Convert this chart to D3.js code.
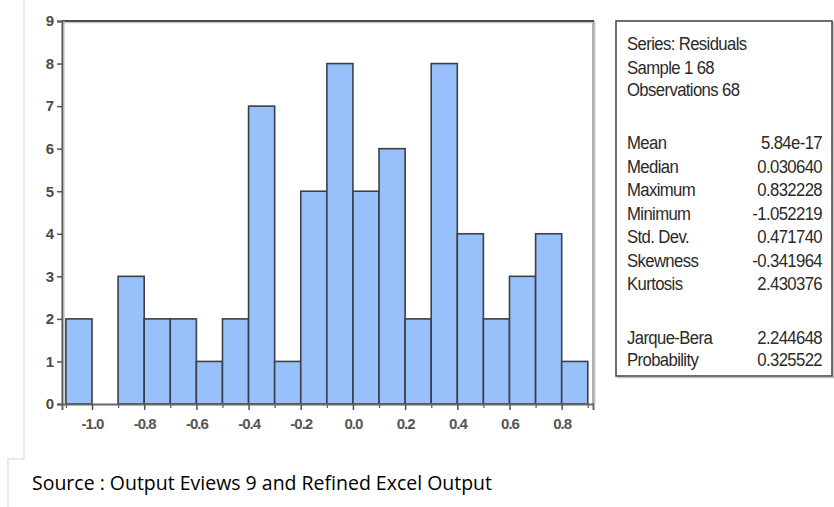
<!DOCTYPE html>
<html>
<head>
<meta charset="utf-8">
<script src="https://cdn.jsdelivr.net/npm/d3@7"></script>
<style>
  html, body { margin: 0; padding: 0; background: #fff; }
  svg { display: block; }
</style>
</head>
<body>
<svg id="chart" width="834" height="507"></svg>
<script>
// ---- data ----
const binStarts = [-1.1, -1.0, -0.9, -0.8, -0.7, -0.6, -0.5, -0.4, -0.3, -0.2,
                   -0.1, 0.0, 0.1, 0.2, 0.3, 0.4, 0.5, 0.6, 0.7, 0.8];
const counts    = [2, 0, 3, 2, 2, 1, 2, 7, 1, 5, 8, 5, 6, 2, 8, 4, 2, 3, 4, 1];
const binWidth = 0.1;
const yTicks = [0, 1, 2, 3, 4, 5, 6, 7, 8, 9];
const xMajorTicks = [-1.0, -0.8, -0.6, -0.4, -0.2, 0.0, 0.2, 0.4, 0.6, 0.8];
const xMinorTicks = [-1.1, -0.9, -0.7, -0.5, -0.3, -0.1, 0.1, 0.3, 0.5, 0.7, 0.9];
const headerLines = ["Series: Residuals", "Sample 1 68", "Observations 68"];
const statLabels = ["Mean", "Median", "Maximum", "Minimum", "Std. Dev.", "Skewness", "Kurtosis"];
const statValues = ["5.84e-17", "0.030640", "0.832228", "-1.052219", "0.471740", "-0.341964", "2.430376"];
const testLabels = ["Jarque-Bera", "Probability"];
const testValues = ["2.244648", "0.325522"];
const sourceText = "Source : Output Eviews 9 and Refined Excel Output";

// ---- layout ----
const svg = d3.select("#chart");
const L = 62, R = 593, T = 21, B = 404;
const x = d3.scaleLinear().domain([-1.115, 0.92]).range([L, R]);
const y = d3.scaleLinear().domain([0, 9]).range([B, T]);

// faint page-edge decoration lines
svg.append("path")
  .attr("d", `M24,0 V459 H8 V507`)
  .attr("fill", "none").attr("stroke", "#e2e2e2").attr("stroke-width", 1.5);

// plot background
svg.append("rect").attr("x", L).attr("y", T).attr("width", R - L).attr("height", B - T)
  .attr("fill", "#fff");

// bars
const bars = svg.append("g");
binStarts.forEach((b, i) => {
  if (counts[i] === 0) return;
  bars.append("rect")
    .attr("x", x(b)).attr("y", y(counts[i]))
    .attr("width", x(b + binWidth) - x(b))
    .attr("height", y(0) - y(counts[i]))
    .attr("fill", "#98c1fb")
    .attr("stroke", "#3c3f45").attr("stroke-width", 1.6);
});

// frame: right (light) and top (dark)
svg.append("line").attr("x1", R + 1.5).attr("x2", R + 1.5).attr("y1", T).attr("y2", B)
  .attr("stroke", "#c8c8c8").attr("stroke-width", 2);
svg.append("line").attr("x1", R).attr("x2", R).attr("y1", T).attr("y2", B)
  .attr("stroke", "#8a8a8a").attr("stroke-width", 1.3);
svg.append("line").attr("x1", L).attr("x2", R).attr("y1", T + 1.5).attr("y2", T + 1.5)
  .attr("stroke", "#c8c8c8").attr("stroke-width", 1.5);
svg.append("line").attr("x1", L).attr("x2", R + 1).attr("y1", T).attr("y2", T)
  .attr("stroke", "#4a4a4a").attr("stroke-width", 1.8);

const tickFont = "Liberation Sans, Arial, sans-serif";

// y axis
const yAxis = d3.axisLeft(y).tickValues(yTicks).tickSize(5).tickPadding(3).tickFormat(d3.format("d"));
const gy = svg.append("g").attr("transform", `translate(${L},0)`).call(yAxis);
gy.attr("font-size", 15);
gy.select(".domain").attr("stroke", "#555").attr("stroke-width", 2);
gy.selectAll(".tick line").attr("stroke", "#555").attr("stroke-width", 1.5);
gy.selectAll(".tick text").attr("fill", "#4a4a4a").attr("font-family", tickFont)
  .attr("font-size", 15).attr("font-weight", "bold");
svg.append("line").attr("x1", L + 2).attr("x2", L + 2).attr("y1", T).attr("y2", B)
  .attr("stroke", "#bdbdbd").attr("stroke-width", 1.2);

// x axis
const xAxis = d3.axisBottom(x).tickValues(xMajorTicks).tickSize(6).tickPadding(8)
  .tickFormat(d3.format(".1f"));
const gx = svg.append("g").attr("transform", `translate(0,${B})`).call(xAxis);
gx.attr("font-size", 15);
gx.select(".domain").attr("stroke", "#666").attr("stroke-width", 2);
gx.selectAll(".tick line").attr("stroke", "#555").attr("stroke-width", 1.5);
gx.selectAll(".tick text").attr("fill", "#555").attr("font-family", tickFont)
  .attr("font-size", 15).attr("font-weight", "bold").attr("letter-spacing", -1)
  .text(d => d3.format(".1f")(d).replace("−", "-"));
const gxm = svg.append("g").attr("transform", `translate(0,${B})`)
  .call(d3.axisBottom(x).tickValues(xMinorTicks).tickSize(4).tickFormat(""));
gxm.select(".domain").remove();
gxm.selectAll(".tick line").attr("stroke", "#666").attr("stroke-width", 1.3);

// stats box
const bx = 616, by = 21, bw = 216, bh = 355;
svg.append("rect").attr("x", bx + 1.5).attr("y", by + 1.5).attr("width", bw).attr("height", bh)
  .attr("fill", "none").attr("stroke", "#c4c4c4").attr("stroke-width", 1.5);
svg.append("rect").attr("x", bx).attr("y", by).attr("width", bw).attr("height", bh)
  .attr("fill", "#fff").attr("stroke", "#4a4a4a").attr("stroke-width", 1.6);

const tx = 627, vx = 822;
const txt = svg.append("g").attr("font-family", "Liberation Sans, Arial, sans-serif")
  .attr("font-size", 19).attr("fill", "#2a2a2a");
function addText(str, px, py, anchor) {
  const g = txt.append("g").attr("transform", `translate(${px},${py}) scale(0.88,1)`);
  g.append("text").attr("x", 0).attr("y", 0).attr("text-anchor", anchor)
    .attr("letter-spacing", -0.7).text(str);
}
const headerY = [50, 74, 96];
headerLines.forEach((s, i) => addText(s, tx, headerY[i], "start"));
const statY0 = 149, statDY = 23.5;
statLabels.forEach((s, i) => {
  addText(s, tx, statY0 + i * statDY, "start");
  addText(statValues[i], vx, statY0 + i * statDY, "end");
});
const testY0 = 344;
testLabels.forEach((s, i) => {
  addText(s, tx, testY0 + i * 21.5, "start");
  addText(testValues[i], vx, testY0 + i * 21.5, "end");
});

// source caption
svg.append("text").attr("x", 32).attr("y", 490)
  .attr("font-family", "Open Sans, Liberation Sans, sans-serif").attr("font-size", 19.5)
  .attr("font-weight", 500)
  .attr("fill", "#000")
  .attr("textLength", 460).attr("lengthAdjust", "spacingAndGlyphs")
  .text(sourceText);
</script>
</body>
</html>
